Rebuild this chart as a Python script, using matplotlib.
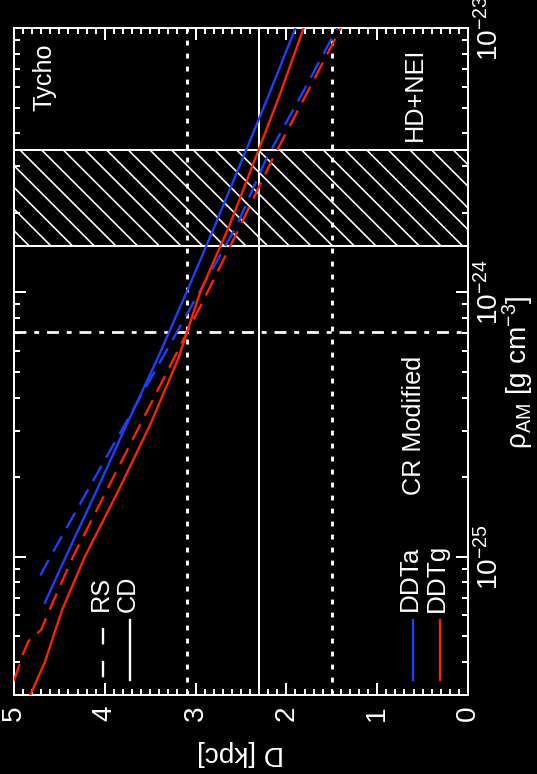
import matplotlib
matplotlib.use('Agg')
import matplotlib.pyplot as plt
from matplotlib.ticker import MultipleLocator, LogLocator, NullFormatter

plt.rcParams['font.family'] = ['Liberation Sans', 'DejaVu Sans']
plt.rcParams['mathtext.fontset'] = 'custom'
plt.rcParams['mathtext.rm'] = 'Liberation Sans'
plt.rcParams['mathtext.it'] = 'Liberation Sans:italic'
plt.rcParams['axes.unicode_minus'] = False
plt.rcParams['hatch.color'] = 'white'
plt.rcParams['hatch.linewidth'] = 0.9

# ---------------- data ----------------
d_ticks = [0, 1, 2, 3, 4, 5]
rho_ticks = [1e-25, 1e-24, 1e-23]

# DDTa (blue), contact discontinuity (CD, solid)
rho_ddta_cd = [6.7e-26, 1e-25, 1.78e-25, 3.16e-25, 5.62e-25, 1e-24, 1.78e-24, 3.16e-24, 5.62e-24, 1e-23]
d_ddta_cd = [4.66, 4.43, 4.09, 3.76, 3.42, 3.10, 2.79, 2.49, 2.19, 1.90]
# DDTa (blue), reverse shock (RS, dashed)
rho_ddta_rs = [8.5e-26, 1e-25, 1.78e-25, 3.16e-25, 5.62e-25, 1e-24, 1.78e-24, 3.16e-24, 5.62e-24, 1e-23]
d_ddta_rs = [4.71, 4.60, 4.19, 3.78, 3.37, 2.96, 2.55, 2.23, 1.83, 1.44]
# DDTg (red), CD (solid)
rho_ddtg_cd = [3e-26, 4e-26, 6.3e-26, 1e-25, 1.78e-25, 3.16e-25, 5.62e-25, 1e-24, 1.78e-24, 3.16e-24, 5.62e-24, 1e-23]
d_ddtg_cd = [4.82, 4.66, 4.47, 4.22, 3.85, 3.50, 3.19, 2.95, 2.63, 2.35, 2.07, 1.81]
# DDTg (red), RS (dashed)
rho_ddtg_rs = [3.4e-26, 4.3e-26, 4.8e-26, 5.3e-26, 7e-26, 1e-25, 1.78e-25, 3.16e-25, 5.62e-25, 1e-24, 1.78e-24, 3.16e-24, 5.62e-24, 1e-23]
d_ddtg_rs = [5.00, 4.90, 4.84, 4.70, 4.55, 4.35, 3.98, 3.61, 3.24, 2.87, 2.51, 2.16, 1.78, 1.40]

# reference distances (vertical lines) and densities
d_best = 2.3
d_range = [3.1, 1.5]
rho_band = [1.5e-24, 3.45e-24]
rho_cr = 7.1e-25

BLUE = '#1f3fff'
RED = '#ff2200'

fig = plt.figure(figsize=(537 / 130, 774 / 130), dpi=130, facecolor='black')
ax = fig.add_axes([14 / 537, 1 - 695 / 774, 454 / 537, 667 / 774])
ax.set_facecolor('black')
ax.set_yscale('log')
ax.set_xlim(5, 0)
ax.set_ylim(3e-26, 1e-23)

# band
ax.axhspan(rho_band[0], rho_band[1], facecolor='none', edgecolor='white', hatch='\\\\', lw=1.1, zorder=1)
ax.axhline(rho_cr, color='white', lw=1.5, ls=(0, (4.4, 2.9, 1.8, 2.9)), zorder=1)
ax.axvline(d_best, color='white', lw=1.1, zorder=1)
for d in d_range:
    ax.axvline(d, color='white', lw=1.6, ls=(0, (1.7, 2.8)), zorder=1)

dash = (0, (7.5, 4))
ax.plot(d_ddta_cd, rho_ddta_cd, color=BLUE, lw=1.3, zorder=3)
ax.plot(d_ddta_rs, rho_ddta_rs, color=BLUE, lw=1.3, ls=dash, zorder=3)
ax.plot(d_ddtg_cd, rho_ddtg_cd, color=RED, lw=1.3, zorder=3)
ax.plot(d_ddtg_rs, rho_ddtg_rs, color=RED, lw=1.3, ls=dash, zorder=3)

# spines / ticks
for s in ax.spines.values():
    s.set_color('white')
    s.set_linewidth(1.1)
ax.xaxis.set_major_locator(MultipleLocator(1))
ax.xaxis.set_minor_locator(MultipleLocator(0.1))
ax.set_xticks(d_ticks)
ax.set_xticklabels([str(t) for t in d_ticks])
ax.yaxis.set_major_locator(LogLocator(base=10))
ax.yaxis.set_minor_locator(LogLocator(base=10, subs=range(2, 10)))
ax.yaxis.set_minor_formatter(NullFormatter())
ax.set_yticks(rho_ticks)
ax.tick_params(axis='x', which='both', direction='in', top=True, bottom=True,
               colors='white', labelsize=15.5, labelrotation=90, pad=6)
ax.tick_params(axis='y', which='both', direction='in', left=True, right=True,
               labelleft=False, labelright=True, colors='white', labelsize=15.5,
               labelrotation=90, pad=4)
ax.tick_params(which='major', length=6.6, width=1.1)
ax.tick_params(which='minor', length=3.2, width=1.1)
for lab in ax.get_yticklabels():
    lab.set_va('center')

# axis labels
fig.text(240 / 537, 1 - 753 / 774, 'D [kpc]', color='white', fontsize=15.5,
         rotation=180, ha='center', va='center')
fig.text(518 / 537, 1 - 372 / 774, r'ρ$_{\rm AM}$ [g cm$^{-3}$]', color='white',
         fontsize=15.5, rotation=90, ha='center', va='center')

def px(x, y):
    return ((x - 14) / 454, (695 - y) / 667)

tkw = dict(color='white', rotation=90, ha='center', va='center', transform=ax.transAxes)
ax.text(*px(44, 77), 'Tycho', fontsize=14, **tkw)
ax.text(*px(414.5, 94), 'HD+NEI', fontsize=14, **tkw)
ax.text(*px(414, 425), 'CR Modified', fontsize=14, **tkw)
ax.text(*px(410, 578), 'DDTa', fontsize=14.5, **tkw)
ax.text(*px(437, 578), 'DDTg', fontsize=14.5, **tkw)
ax.text(*px(101, 593), 'RS', fontsize=14, **tkw)
ax.text(*px(127.5, 594), 'CD', fontsize=14, **tkw)

# legend samples
def vline_px(x, y0, y1, **kw):
    a = px(x, y0)
    b = px(x, y1)
    ax.plot([a[0], b[0]], [a[1], b[1]], transform=ax.transAxes, **kw)

vline_px(413, 620, 680, color=BLUE, lw=1.3)
vline_px(440, 620, 680, color=RED, lw=1.3)
vline_px(103, 628, 680, color='white', lw=1.3, ls=(0, (7, 7)))
vline_px(130, 620, 680, color='white', lw=1.3)

fig.savefig('out.png', dpi=130, facecolor='black')
